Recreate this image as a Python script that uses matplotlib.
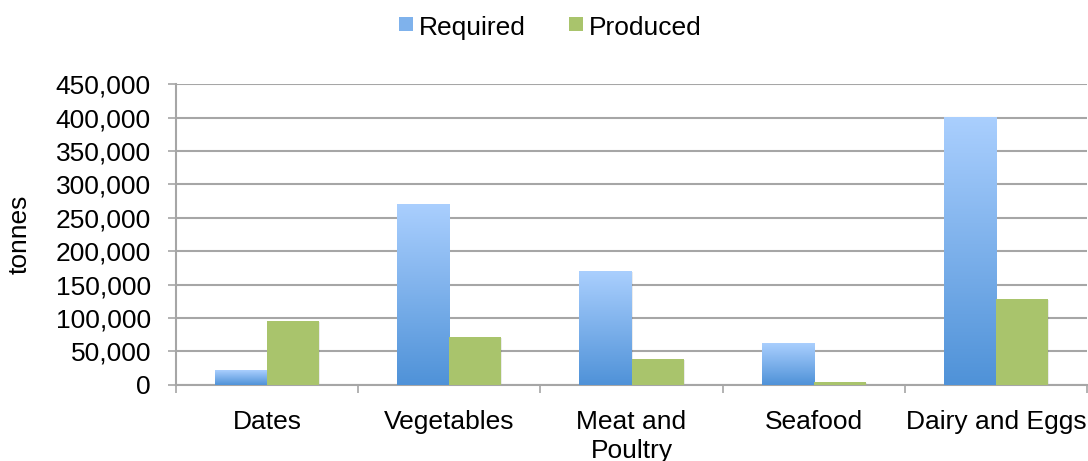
import numpy as np
import matplotlib
matplotlib.use("Agg")
import matplotlib.pyplot as plt
from matplotlib.patches import Rectangle
from matplotlib.colors import LinearSegmentedColormap
from matplotlib.ticker import FuncFormatter, MultipleLocator

plt.rcParams["font.family"] = ["Liberation Sans", "DejaVu Sans"]

categories = ["Dates", "Vegetables", "Meat and\nPoultry", "Seafood", "Dairy and Eggs"]
required = [22000, 270000, 170000, 62500, 400000]
produced = [95500, 72000, 38500, 4000, 128000]

BLUE_TOP = "#aacffe"
BLUE_BOT = "#4f92d8"
GREEN = "#a9c46c"
GRID = "#a6a6a6"
FS = 19

fig = plt.figure(figsize=(10.88, 4.61), dpi=100)
ax = fig.add_axes([176 / 1088, 76.3 / 461, 911 / 1088, 300.4 / 461])

x = np.arange(len(categories))
w = 1 / 3.5  # gap width 150% of one bar

blue_cmap = LinearSegmentedColormap.from_list("req", [BLUE_BOT, BLUE_TOP])
grad = np.linspace(0, 1, 256).reshape(-1, 1)

for xi, r, p in zip(x, required, produced):
    x0 = xi - w
    # soft shadow behind each bar
    for val, left in ((r, x0), (p, xi)):
        ax.add_patch(Rectangle((left + 0.006, -1500), w, val, facecolor="#000000",
                               alpha=0.08, lw=0, zorder=2))
    ax.imshow(grad, cmap=blue_cmap, origin="lower", aspect="auto",
              extent=(x0, xi, 0, r), zorder=3, interpolation="bilinear")
    ax.bar(xi + w / 2, p, width=w, color=GREEN, lw=0, zorder=3)

ax.set_xlim(-0.5, len(categories) - 0.5)
ax.set_ylim(0, 450000)
ax.yaxis.set_major_locator(MultipleLocator(50000))
ax.yaxis.set_major_formatter(FuncFormatter(lambda v, _: f"{int(v):,}"))
ax.yaxis.grid(True, color=GRID, lw=1.5, zorder=1)
ax.set_axisbelow(True)

ax.set_xticks(x)
ax.set_xticklabels(categories, fontsize=FS, linespacing=1.3)
ax.set_xticks(np.arange(len(categories) + 1) - 0.5, minor=True)
ax.tick_params(axis="x", which="major", length=0, pad=18)
ax.tick_params(axis="x", which="minor", length=6, width=1.2, color=GRID, direction="out")
ax.tick_params(axis="y", length=6, width=1.2, color=GRID, labelsize=FS, pad=12)

for side in ("top", "right"):
    ax.spines[side].set_visible(False)
for side in ("left", "bottom"):
    ax.spines[side].set_color(GRID)
    ax.spines[side].set_linewidth(1.5)

ax.set_ylabel("tonnes", fontsize=FS)
ax.yaxis.set_label_coords(-0.158, 0.5)

# legend across the top
fig.patches.append(Rectangle((399 / 1088, 1 - 31 / 461), 14 / 1088, 14 / 461,
                             transform=fig.transFigure, facecolor="#7fb2ec", lw=0))
fig.text(419 / 1088, 1 - 28 / 461, "Required", fontsize=FS, va="center", ha="left")
fig.patches.append(Rectangle((569 / 1088, 1 - 31 / 461), 14 / 1088, 14 / 461,
                             transform=fig.transFigure, facecolor=GREEN, lw=0))
fig.text(589 / 1088, 1 - 28 / 461, "Produced", fontsize=FS, va="center", ha="left")

fig.savefig("out.png", dpi=100)
